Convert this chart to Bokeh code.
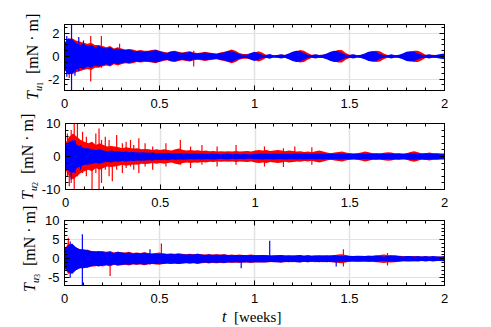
from bokeh.plotting import figure
from bokeh.layouts import column, row
from bokeh.models import (Range1d, LinearAxis, SingleIntervalTicker,
                          CustomJSTickFormatter, Div)
from bokeh.embed import file_html
from bokeh.resources import INLINE

# ---------------- data ----------------
# sample times [weeks], step 0.02
T_WEEKS = [round(i * 0.02, 2) for i in range(101)]

# envelope amplitude (half-width of the noisy band) per sample
U1_BLUE = [1.2, 1.6, 1.5, 1.2, 1.0, 1.1, 0.9, 1.0, 0.8, 0.9,
           0.8, 0.7, 0.8, 0.6, 0.7, 0.6, 0.55, 0.6, 0.5, 0.45,
           0.5, 0.4, 0.45, 0.5, 0.55, 0.45, 0.35, 0.3, 0.4, 0.45,
           0.35, 0.3, 0.35, 0.4, 0.3, 0.25, 0.3, 0.35, 0.3, 0.25,
           0.2, 0.3, 0.35, 0.45, 0.5, 0.35, 0.2, 0.15, 0.15, 0.3,
           0.4, 0.3, 0.15, 0.12, 0.2, 0.1, 0.12, 0.18, 0.12, 0.25,
           0.4, 0.5, 0.45, 0.3, 0.15, 0.1, 0.18, 0.12, 0.15, 0.25,
           0.4, 0.5, 0.45, 0.3, 0.15, 0.12, 0.18, 0.1, 0.15, 0.25,
           0.4, 0.45, 0.4, 0.2, 0.12, 0.1, 0.18, 0.1, 0.15, 0.25,
           0.4, 0.45, 0.4, 0.25, 0.15, 0.12, 0.18, 0.1, 0.15, 0.2,
           0.25]
U1_RED = [1.0, 1.5, 1.6, 1.4, 1.3, 1.2, 1.1, 1.2, 1.0, 1.0,
          0.9, 0.8, 0.9, 0.7, 0.8, 0.7, 0.6, 0.65, 0.6, 0.5,
          0.55, 0.5, 0.5, 0.55, 0.6, 0.5, 0.4, 0.35, 0.45, 0.5,
          0.4, 0.35, 0.4, 0.45, 0.35, 0.3, 0.35, 0.4, 0.35, 0.3,
          0.25, 0.35, 0.4, 0.5, 0.6, 0.5, 0.3, 0.2, 0.2, 0.25,
          0.3, 0.45, 0.35, 0.15, 0.12, 0.1, 0.12, 0.15, 0.12, 0.2,
          0.35, 0.45, 0.55, 0.5, 0.3, 0.15, 0.15, 0.12, 0.15, 0.2,
          0.35, 0.45, 0.55, 0.55, 0.3, 0.15, 0.15, 0.1, 0.12, 0.2,
          0.35, 0.45, 0.5, 0.45, 0.25, 0.12, 0.1, 0.12, 0.1, 0.15,
          0.3, 0.4, 0.5, 0.5, 0.35, 0.15, 0.12, 0.15, 0.1, 0.12,
          0.15]
U2_BLUE = [3.5, 4.5, 5.0, 3.5, 3.0, 2.5, 2.5, 2.2, 2.0, 2.2,
           1.8, 1.6, 1.8, 1.5, 1.6, 1.4, 1.5, 1.3, 1.4, 1.2,
           1.3, 1.2, 1.1, 1.2, 1.0, 1.1, 1.0, 1.1, 0.9, 1.0,
           0.9, 1.0, 0.9, 0.8, 0.9, 0.8, 0.9, 0.8, 0.8, 0.9,
           0.8, 0.7, 0.8, 0.8, 0.7, 0.8, 0.7, 0.8, 0.7, 0.7,
           0.8, 0.8, 0.9, 0.8, 0.8, 0.9, 0.8, 0.8, 0.9, 0.8,
           0.8, 0.9, 0.8, 0.9, 0.8, 0.8, 0.9, 0.8, 0.9, 0.8,
           0.9, 0.8, 0.9, 0.9, 0.8, 0.9, 0.8, 0.9, 0.9, 0.8,
           0.9, 0.9, 1.0, 0.9, 0.9, 0.8, 0.9, 0.9, 1.0, 0.9,
           0.9, 1.0, 1.0, 0.9, 0.9, 1.0, 0.9, 0.9, 1.0, 0.9,
           0.9]
U2_RED = [4.0, 6.0, 7.0, 6.0, 5.0, 4.5, 4.0, 4.5, 3.5, 4.0,
          3.5, 3.0, 3.2, 3.0, 2.8, 2.5, 2.8, 2.6, 2.4, 2.5,
          2.2, 2.3, 2.2, 2.0, 2.2, 2.0, 2.2, 2.0, 1.8, 2.2,
          2.4, 2.0, 1.8, 2.0, 1.8, 1.9, 1.7, 1.8, 1.6, 1.7,
          1.5, 1.6, 1.5, 1.6, 1.5, 1.7, 1.5, 1.6, 1.7, 1.5,
          1.8, 2.0, 1.8, 2.0, 1.7, 1.8, 2.0, 1.8, 1.6, 1.8,
          1.7, 1.5, 1.6, 1.4, 1.5, 1.3, 1.6, 1.8, 1.5, 1.2,
          1.0, 1.2, 1.4, 1.5, 1.2, 1.0, 0.9, 1.0, 1.2, 1.5,
          1.3, 1.0, 0.8, 0.9, 1.1, 1.3, 1.2, 0.9, 0.8, 0.7,
          1.0, 1.4, 1.6, 1.3, 0.9, 1.0, 1.2, 1.0, 0.8, 0.7,
          0.7]
U3_BLUE = [2.5, 3.5, 4.0, 3.0, 2.5, 2.5, 2.2, 2.0, 1.8, 2.0,
           1.8, 1.6, 1.8, 1.5, 1.8, 1.6, 1.5, 1.6, 1.4, 1.5,
           1.4, 1.6, 1.4, 1.3, 1.4, 1.3, 1.4, 1.2, 1.3, 1.2,
           1.4, 1.2, 1.1, 1.2, 1.1, 1.3, 1.1, 1.0, 1.2, 1.0,
           1.1, 1.0, 1.1, 1.0, 0.9, 1.0, 0.9, 1.0, 0.9, 1.0,
           0.9, 0.9, 1.0, 0.9, 0.8, 0.9, 0.9, 1.0, 0.8, 0.9,
           0.8, 0.9, 1.0, 0.8, 0.9, 0.8, 0.8, 0.9, 0.8, 0.9,
           0.8, 0.9, 0.8, 0.7, 0.8, 0.7, 0.7, 0.8, 0.7, 0.7,
           0.8, 0.7, 0.8, 0.7, 0.6, 0.7, 0.7, 0.8, 0.7, 0.6,
           0.7, 0.7, 0.6, 0.7, 0.6, 0.7, 0.6, 0.7, 0.6, 0.6,
           0.7]
U3_RED = [2.5, 4.0, 3.5, 3.0, 2.5, 2.2, 2.4, 2.0, 2.0, 1.8,
          2.0, 1.8, 2.0, 1.6, 1.8, 1.7, 1.6, 1.8, 1.5, 1.6,
          1.5, 1.7, 1.5, 1.4, 1.5, 1.6, 1.4, 1.3, 1.4, 1.3,
          1.4, 1.3, 1.2, 1.3, 1.2, 1.3, 1.2, 1.1, 1.2, 1.1,
          1.2, 1.1, 1.2, 1.0, 1.1, 1.0, 1.1, 1.0, 1.0, 1.1,
          1.0, 1.0, 0.9, 1.0, 0.9, 0.8, 0.9, 1.0, 0.9, 0.8,
          0.9, 0.8, 0.9, 0.8, 0.9, 0.8, 0.9, 0.8, 0.9, 0.8,
          0.9, 1.0, 1.1, 1.2, 1.0, 0.8, 0.7, 0.7, 0.8, 0.7,
          0.8, 0.8, 0.9, 1.0, 1.1, 1.0, 1.0, 0.9, 0.8, 0.7,
          0.6, 0.6, 0.7, 0.6, 0.6, 0.5, 0.6, 0.5, 0.6, 0.5,
          0.6]

# isolated spikes: time, lowest value, highest value
U1_BLUE_SPIKE_T = [0.012, 0.037, 0.055, 0.075, 0.10]
U1_BLUE_SPIKE_LO = [-1.8, -3.0, -1.7, -1.3, -1.1]
U1_BLUE_SPIKE_HI = [1.8, 2.8, 1.2, 1.7, 1.4]
U1_RED_SPIKE_T = [0.025, 0.138, 0.194, 0.29, 0.68]
U1_RED_SPIKE_LO = [-1.9, -2.2, -1.0, -0.6, -0.9]
U1_RED_SPIKE_HI = [1.4, 1.8, 1.8, 1.1, 0.5]

U2_BLUE_SPIKE_T = [0.03, 0.05, 0.08]
U2_BLUE_SPIKE_LO = [-7.0, -5.0, -4.0]
U2_BLUE_SPIKE_HI = [4.5, 5.0, 3.5]
U2_RED_SPIKE_T = [0.01, 0.02, 0.03, 0.046, 0.063, 0.09, 0.11, 0.14, 0.16, 0.177,
                  0.19, 0.21, 0.23, 0.247, 0.27, 0.30, 0.32, 0.343, 0.36, 0.387,
                  0.42, 0.46, 0.53, 0.606, 0.66, 0.72, 0.80, 0.90, 1.05, 1.15,
                  1.21, 1.30]
U2_RED_SPIKE_LO = [-6.0, -9.0, -8.0, -10.0, -6.0, -5.0, -6.0, -10.0, -5.0, -10.0,
                   -8.0, -4.0, -6.0, -7.5, -4.0, -5.0, -3.5, -3.0, -4.0, -5.0,
                   -3.0, -4.0, -3.0, -2.5, -3.5, -2.5, -3.0, -2.5, -3.0, -3.2,
                   -1.5, -2.5]
U2_RED_SPIKE_HI = [7.0, 6.0, 8.0, 10.0, 10.0, 7.5, 6.0, 3.0, 7.0, 8.5,
                   5.0, 6.0, 5.0, 2.5, 6.5, 4.0, 4.5, 5.0, 3.5, 5.5,
                   4.0, 3.0, 4.0, 5.0, 3.0, 3.5, 3.0, 3.5, 3.0, 2.5,
                   3.0, 2.8]

U3_BLUE_SPIKE_T = [0.03, 0.094, 0.45, 0.93, 1.08, 1.43]
U3_BLUE_SPIKE_LO = [-5.0, -7.0, -1.5, -2.5, -0.6, -2.0]
U3_BLUE_SPIKE_HI = [4.5, 6.4, 2.5, 1.0, 4.7, 0.8]
U3_RED_SPIKE_T = [0.02, 0.24, 0.51, 1.468, 1.70]
U3_RED_SPIKE_LO = [-3.0, -4.5, -1.0, -2.0, -1.8]
U3_RED_SPIKE_HI = [5.5, 1.5, 4.0, 2.5, 1.5]

X_LIMITS = (0, 2)
Y_LIMITS = [(-3.0, 2.8), (-10, 10), (-7, 10)]
Y_TICK_STEP = [2, 10, 5]
Y_MINOR = [4, 5, 5]
SUBSCRIPTS = ["1", "2", "3"]
X_LABEL_VAR = "t"
X_LABEL_UNIT = "[weeks]"
Y_LABEL_VAR = "T"
Y_LABEL_SUB = "u"
Y_LABEL_UNIT = "[mN · m]"

RED = "#ff0000"
BLUE = "#0000ff"
GRID = "#e2e2e2"
TICK_FONT = "Liberation Sans"
MATH_FONT = "'Liberation Serif', serif"

# layout (pixels)
TOTAL_W = 478
FRAME_LEFT = 63
BORDER_R = 34
FRAME_H = [66, 66, 65]
BORDER_TOP = [24, 9, 7]
BORDER_BOTTOM = [24, 24, 24]
YLAB_W = [44, 38, 42]          # width of the strip carrying the y label
YLAB_LEFT = [25, 20, 22]       # left of the rotated text box in that strip
YLAB_START = [100, 86, 79]     # where the label starts (bottom end), from strip top
XLAB_H = 18


def style_axis(ax, ticker, labels):
    ax.ticker = ticker
    ax.major_tick_in = 5
    ax.major_tick_out = 0
    ax.minor_tick_in = 3
    ax.minor_tick_out = 0
    ax.axis_line_color = "black"
    ax.major_tick_line_color = "black"
    ax.minor_tick_line_color = "black"
    if labels:
        ax.formatter = CustomJSTickFormatter(code="return tick.toString();")
        ax.major_label_text_font = TICK_FONT
        ax.major_label_text_font_size = "13px"
        ax.major_label_text_color = "black"
    else:
        ax.formatter = CustomJSTickFormatter(code="return '';")
        ax.major_label_text_font_size = "0px"
        ax.major_label_standoff = 0


def ylabel_div(k, height):
    inner = (
        f'<div style="position:relative;width:{YLAB_W[k]}px;height:{height}px;">'
        f'<div style="position:absolute;left:{YLAB_LEFT[k]}px;top:{YLAB_START[k]}px;'
        f'transform-origin:0 0;transform:rotate(-90deg);white-space:nowrap;'
        f'font-family:{MATH_FONT};font-size:16px;line-height:15px;color:#000;">'
        f'<i>{Y_LABEL_VAR}</i>'
        f'<span style="position:relative;top:4px;font-size:10px;"><i>{Y_LABEL_SUB}</i>'
        f'<span style="font-size:8px;position:relative;top:1px;">{SUBSCRIPTS[k]}</span></span>'
        f'&nbsp;&nbsp;{Y_LABEL_UNIT}</div></div>'
    )
    return Div(text=inner, width=YLAB_W[k], height=height, margin=(0, 0, 0, 0),
               styles={"overflow": "visible"})


def make_panel(k, amp_red, amp_blue, spikes_red, spikes_blue):
    ylo, yhi = Y_LIMITS[k]
    height = BORDER_TOP[k] + FRAME_H[k] + BORDER_BOTTOM[k]
    p = figure(width=TOTAL_W - YLAB_W[k], height=height, title=None,
               x_range=Range1d(*X_LIMITS), y_range=Range1d(ylo, yhi),
               output_backend="svg", toolbar_location=None,
               min_border_left=FRAME_LEFT - YLAB_W[k], min_border_right=BORDER_R,
               min_border_top=BORDER_TOP[k], min_border_bottom=BORDER_BOTTOM[k])
    p.background_fill_color = "white"
    p.border_fill_color = "white"
    p.outline_line_color = "black"

    xt = lambda: SingleIntervalTicker(interval=0.5, num_minor_ticks=5)
    yt = lambda: SingleIntervalTicker(interval=Y_TICK_STEP[k], num_minor_ticks=Y_MINOR[k])
    style_axis(p.below[0], xt(), True)
    p.below[0].major_label_standoff = 8
    style_axis(p.left[0], yt(), True)
    ax_top = LinearAxis()
    style_axis(ax_top, xt(), False)
    p.add_layout(ax_top, "above")
    ax_right = LinearAxis()
    style_axis(ax_right, yt(), False)
    p.add_layout(ax_right, "right")

    p.xgrid.grid_line_color = GRID
    p.xgrid.grid_line_width = 1.5
    p.ygrid.grid_line_color = GRID

    neg = lambda a: [-v for v in a]
    # red signal
    p.varea(x=T_WEEKS, y1=neg(amp_red), y2=amp_red, fill_color=RED)
    p.segment(x0=spikes_red[0], y0=spikes_red[1], x1=spikes_red[0], y1=spikes_red[2],
              line_color=RED, line_width=1.2)
    # blue signal
    p.varea(x=T_WEEKS, y1=neg(amp_blue), y2=amp_blue, fill_color=BLUE)
    p.segment(x0=spikes_blue[0], y0=spikes_blue[1], x1=spikes_blue[0], y1=spikes_blue[2],
              line_color=BLUE, line_width=1.2)

    return row(ylabel_div(k, height), p, spacing=0)


r1 = make_panel(0, U1_RED, U1_BLUE,
                (U1_RED_SPIKE_T, U1_RED_SPIKE_LO, U1_RED_SPIKE_HI),
                (U1_BLUE_SPIKE_T, U1_BLUE_SPIKE_LO, U1_BLUE_SPIKE_HI))
r2 = make_panel(1, U2_RED, U2_BLUE,
                (U2_RED_SPIKE_T, U2_RED_SPIKE_LO, U2_RED_SPIKE_HI),
                (U2_BLUE_SPIKE_T, U2_BLUE_SPIKE_LO, U2_BLUE_SPIKE_HI))
r3 = make_panel(2, U3_RED, U3_BLUE,
                (U3_RED_SPIKE_T, U3_RED_SPIKE_LO, U3_RED_SPIKE_HI),
                (U3_BLUE_SPIKE_T, U3_BLUE_SPIKE_LO, U3_BLUE_SPIKE_HI))

# strip below carrying  t [weeks]
xlab = Div(text=(
    f'<div style="position:relative;width:{TOTAL_W}px;height:{XLAB_H}px;">'
    f'<div style="position:absolute;left:222px;top:0px;white-space:nowrap;'
    f'font-family:{MATH_FONT};font-size:15px;line-height:15px;color:#000;">'
    f'<i style="font-size:16px;">{X_LABEL_VAR}</i>&nbsp;&nbsp;{X_LABEL_UNIT}</div></div>'),
    width=TOTAL_W, height=XLAB_H, margin=(0, 0, 0, 0), styles={"overflow": "visible"})

p = column(r1, r2, r3, xlab, spacing=0)
open("out.html", "w").write(file_html(p, INLINE))
